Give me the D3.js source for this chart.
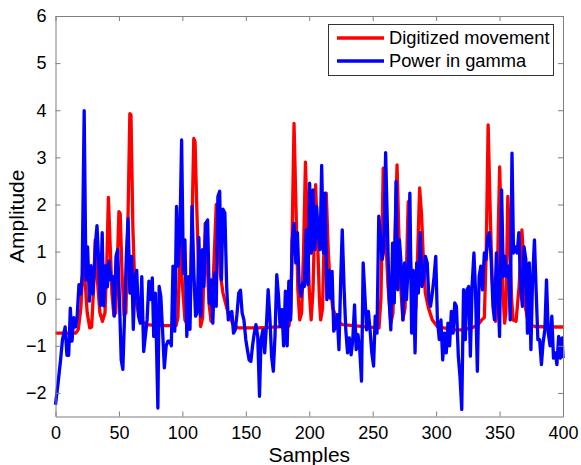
<!DOCTYPE html>
<html>
<head>
<meta charset="utf-8">
<script src="https://cdn.jsdelivr.net/npm/d3@7"></script>
<style>
  body { margin: 0; background: #fff; }
  svg { display: block; font-family: "Liberation Sans", Arial, sans-serif; }
</style>
</head>
<body>
<svg id="chart" width="581" height="465"></svg>
<script>
// ---- data ----
const xTicks = [0, 50, 100, 150, 200, 250, 300, 350, 400];
const yTicks = [-2, -1, 0, 1, 2, 3, 4, 5, 6];
const seriesNames = ["Digitized movement", "Power in gamma"];
const seriesColors = ["#ff0000", "#0000ff"];

// Digitized movement: [sample, amplitude]
const movement = [
[0,-0.73],[10,-0.73],[16,-0.73],[18,-0.65],[20,-0.2],[22,0.9],[23.5,0.3],[25,-0.3],[27,-0.62],[28.5,-0.6],
[30,0.2],[31.3,1.25],[33,0.4],[35,-0.3],[37,-0.48],[39,-0.3],[40.5,0.8],[41.7,2.15],[43,1.2],[44.5,0.1],
[46,-0.35],[47.5,-0.3],[49,1.0],[50,1.85],[51,1.8],[52.5,0.5],[54,-0.35],[55.5,-0.3],[57,1.5],[58.6,3.93],
[59.5,3.9],[61,1.5],[62.5,0.26],[64,-0.1],[66,-0.4],[69,-0.5],[72,-0.55],[80,-0.57],[95,-0.57],[96.5,-0.4],
[98.4,1.4],[100,0.3],[102,-0.45],[104,-0.55],[106,-0.4],[107.5,1.5],[109,3.4],[110,3.33],[111.5,1.8],[113,0.4],
[114.4,-0.59],[116,-0.4],[118,1.6],[119.5,0.8],[121,-0.1],[122.6,-0.48],[124.5,0.5],[126.7,2.0],[128,1.5],[130,0.5],
[132,0.12],[136,-0.3],[140,-0.55],[144,-0.62],[160,-0.62],[175,-0.6],[184,-0.58],[185.5,-0.3],[188,3.72],[189.5,2.0],
[191,0.2],[192.5,-0.45],[194,-0.3],[195.5,1.0],[197,2.9],[198.5,1.5],[200,0.2],[201.5,-0.45],[203,0.2],[205,2.42],
[206.5,1.3],[208,0],[209,-0.45],[210.5,-0.2],[211.5,1.0],[213.4,2.24],[215,1.0],[216.5,0.3],[218.5,-0.2],[222,-0.45],
[226,-0.55],[235,-0.57],[245,-0.6],[255,-0.62],[256.5,0],[258.3,2.77],[260,1.5],[262,0.3],[264.3,-0.52],[266,-0.3],
[267.5,1.2],[269.2,2.84],[270.5,1.5],[272,0.3],[273.8,-0.45],[275.5,-0.2],[276.8,0.8],[278,2.06],[279.5,1.0],[281,0.1],
[282.3,-0.34],[284,-0.2],[285.5,1.0],[287,2.35],[288.5,1.8],[290,0.8],[291.5,0.12],[294,-0.2],[297,-0.45],[301,-0.59],
[306,-0.62],[315,-0.66],[320,-0.66],[328,-0.62],[333,-0.55],[336,-0.45],[338,-0.4],[339.5,1.0],[341,3.69],[342.5,2.0],
[344,0.5],[345.5,-0.2],[346.8,-0.48],[348,0],[349,1.5],[350.1,2.8],[351.3,1.5],[352.5,0.2],[354,-0.52],[355,-0.3],
[356.5,2.17],[358,1.2],[359.5,0],[360.6,-0.45],[363,-0.48],[365.5,0.3],[367.6,1.46],[369,0.8],[370.5,-0.2],[373,-0.55],
[378,-0.59],[390,-0.6],[400,-0.6]
];

// Power in gamma: [sample, amplitude]
const gamma = [
[0,-2.25],[2,-1.8],[4,-1.3],[5.5,-0.87],[7.6,-0.6],[9,-1.2],[10.4,-1.2],[11.7,-0.2],[13,-0.9],[14.4,-0.4],
[15.8,-0.6],[17,-0.4],[18.5,0.3],[20,0.1],[21,0.5],[22.6,3.99],[24,0.4],[25.3,1.1],[26.7,-0.05],[28,0.7],
[29.4,0.1],[30.8,0.7],[31.6,1.2],[32.7,1.55],[34,0.8],[35.4,-0.15],[36.8,1.4],[38,-0.15],[39.5,0.7],[40.9,0.25],
[42.2,0.8],[43.6,0.4],[45,0.47],[46.3,-0.37],[47.7,0.9],[49,1.04],[50.4,-0.02],[51.8,-1.3],[53.1,-1.5],[54.5,-0.3],
[55.9,0.97],[57.2,1.7],[58.6,0.12],[60,0.9],[61.3,-0.65],[62.7,0.47],[64,0.6],[65.4,-0.37],[66.8,-0.52],[68,0.47],
[69.5,-1.12],[70.8,-0.8],[72.2,-0.45],[73.6,0.37],[75,-0.02],[76.3,0.44],[77.4,-0.8],[78.7,0.12],[80.7,-2.32],[81.7,0.26],
[83,0.05],[84.5,-0.73],[85.8,-1.47],[87.2,-1.0],[88.6,-0.9],[90.2,-0.9],[91.3,-1.0],[92.6,0.69],[94,-0.69],[95.4,1.96],
[96.7,0.69],[98,1.3],[99.4,3.37],[100.8,0.54],[102,1.25],[103.5,-0.8],[104.9,0.47],[106,-0.65],[107.6,1.96],[109,0.6],
[110.4,-0.37],[111.7,-0.3],[113,1.3],[114.5,-0.37],[115.8,1.04],[117,0.26],[118.5,1.6],[119.9,1.67],[121.3,-0.1],[122.6,0.4],
[124,-0.52],[125.3,0.54],[126.7,-0.16],[128,2.17],[129.4,2.28],[130.8,0.4],[132,1.9],[133.5,1.82],[134.9,0.26],[136.2,-0.45],
[137.6,-0.3],[139,-0.27],[140.3,-0.73],[141.7,-0.66],[143,-0.34],[144.4,0.12],[145.8,0.18],[147.1,-0.3],[148.5,-0.45],[150,-0.87],
[151.2,-1.08],[152.6,-1.3],[154,-1.33],[155.3,-1.0],[156.7,-0.73],[158,-0.55],[159.4,-0.8],[160.8,-2.07],[162,-0.87],[163.5,-0.66],
[164.9,-1.15],[166.2,-0.59],[167.6,0.19],[169,-0.41],[170.3,-1.22],[171.7,-1.54],[173,-0.8],[174.4,0.51],[175.8,0.05],[177,-0.59],
[178.5,-0.23],[179.8,-1.0],[181.2,0.16],[182.6,-1.0],[183.9,0.37],[185.3,-0.45],[186.6,1.25],[188,1.6],[189.4,0.76],[190.7,1.4],
[192,0.33],[193.5,0.05],[194.9,0.33],[196.2,0.26],[197.6,1.46],[199,0.3],[200.3,2.45],[201.6,0.97],[203,2.31],[204.4,1.04],
[205.8,1.96],[207,1.4],[208.5,1.04],[209.8,2.83],[211.2,0.97],[212.5,2.24],[213.9,-0.02],[215.3,0.6],[216.6,0.01],[218,0.58],
[219.3,-0.69],[220.7,-0.59],[222,-0.34],[223.4,-1.08],[224.8,0.4],[226,1.46],[227.5,0.19],[228.8,-0.66],[230.2,-1.15],[231.6,-0.83],
[233,-1.19],[234.3,-0.87],[235.7,-0.13],[237,-1.08],[238.4,-0.76],[239.8,-1.08],[241.2,-1.75],[242.5,0.76],[243.9,0.05],[245.2,-0.66],
[246.6,-0.27],[248,-0.69],[249.3,-1.15],[250.7,-1.43],[252,-0.37],[253.4,-0.73],[254.8,1.75],[256,1.4],[257.5,0.83],[258.8,1.04],
[260.2,3.1],[261.6,1.53],[263,-0.02],[264.3,-0.66],[265.7,1.18],[267,-0.09],[268.4,2.49],[269.8,0.19],[271.1,1.25],[272.5,0.69],
[273.8,-0.45],[275.2,0.76],[276.6,-0.02],[278,0.69],[279.3,2.24],[280.7,-0.73],[282,0.6],[283.4,-1.15],[284.7,0.76],[286,0.12],
[287.5,1.4],[288.8,0.26],[290.2,0.4],[291.5,0.9],[293,0.76],[294.3,-0.02],[295.6,-0.16],[297,0.12],[298.4,0.47],[299.7,0.9],
[301,-0.45],[302.5,-0.87],[303.8,-0.45],[305.2,-1.3],[306.5,-0.73],[308,-1.15],[309.3,-0.52],[310.6,-1.0],[312,-0.27],[313.4,-0.73],
[314.7,-0.09],[316,-0.16],[317.5,-1.22],[318.8,-1.65],[320.2,-2.35],[321.6,0.19],[323,-0.87],[324.3,0.19],[325.7,0.26],[327,-1.22],
[328.4,0.3],[329.8,0.97],[331,0.19],[332.5,-1.54],[333.9,0.47],[335.2,0.69],[336.6,0.19],[338,0.97],[339.3,0.83],[340.7,1.32],
[342,1.4],[343.4,0.83],[344.8,-0.16],[346,-0.45],[347.5,0.97],[348.8,0.12],[350,-0.8],[351.6,2.31],[353,0.47],[354.3,0.9],
[355.7,0.47],[357,0.69],[358.4,-0.45],[359.8,3.09],[361,0.97],[362.5,1.1],[363.9,0.97],[365.2,1.4],[366.6,0.26],[368,-0.16],
[369.3,1.1],[370.7,0.83],[372,-0.73],[373.4,0.76],[374.7,-1.08],[376,0.4],[377.5,1.25],[378.8,0.19],[380.2,-0.87],[381.6,-0.87],
[383,-1.4],[384.3,-0.94],[385.7,-0.66],[387,0.4],[388.4,-0.73],[389.8,-1.0],[391.2,-0.37],[392.5,-1.26],[394,-1.15],[395.2,-1.4],
[396.6,-0.8],[398,-1.26],[399.3,-0.83],[400,-1.26]
];

const series = [movement, gamma];

// ---- layout ----
const svg = d3.select("#chart");
const mLeft = 55.5, mRight = 563, mTop = 16, mBottom = 416.5;
const x = d3.scaleLinear().domain([0, 400]).range([mLeft, mRight]);
const y = d3.scaleLinear().domain([-2.5, 6]).range([mBottom, mTop]);
const axisColor = "#7f7f7f";

// lines
const line = d3.line().x(d => x(d[0])).y(d => y(d[1]));
const plot = svg.append("g");
series.forEach((s, i) => {
  plot.append("path")
    .datum(s)
    .attr("fill", "none")
    .attr("stroke", seriesColors[i])
    .attr("stroke-width", 3.3)
    .attr("stroke-linejoin", "round")
    .attr("d", line);
});

// axes (MATLAB-style inward ticks on all sides)
function styleAxis(g, showText) {
  g.select(".domain").attr("stroke", axisColor).attr("stroke-width", 1);
  g.selectAll(".tick line").attr("stroke", axisColor);
  g.selectAll(".tick text").attr("fill", "#000").style("font-size", "18px")
    .style("font-family", '"Liberation Sans", Arial, sans-serif');
  if (!showText) g.selectAll(".tick text").remove();
}
svg.append("g").attr("transform", `translate(0,${mBottom})`)
  .call(d3.axisBottom(x).tickValues(xTicks).tickSizeInner(-5).tickSizeOuter(0).tickPadding(10))
  .call(g => styleAxis(g, true));
svg.append("g").attr("transform", `translate(0,${mTop})`)
  .call(d3.axisTop(x).tickValues(xTicks).tickSizeInner(-5).tickSizeOuter(0))
  .call(g => styleAxis(g, false));
svg.append("g").attr("transform", `translate(${mLeft},0)`)
  .call(d3.axisLeft(y).tickValues(yTicks).tickSizeInner(-5).tickSizeOuter(0).tickPadding(9))
  .call(g => styleAxis(g, true));
svg.append("g").attr("transform", `translate(${mRight},0)`)
  .call(d3.axisRight(y).tickValues(yTicks).tickSizeInner(-5).tickSizeOuter(0))
  .call(g => styleAxis(g, false));

// axis titles
svg.append("text").attr("x", (mLeft + mRight) / 2).attr("y", 462)
  .attr("text-anchor", "middle").style("font-size", "21px").text("Samples");
svg.append("text").attr("transform", `translate(24,${(mTop + mBottom) / 2}) rotate(-90)`)
  .attr("text-anchor", "middle").style("font-size", "21px").text("Amplitude");

// legend
const lg = svg.append("g");
lg.append("rect").attr("x", 328.5).attr("y", 24.5).attr("width", 225).attr("height", 51)
  .attr("fill", "#fff").attr("stroke", "#333").attr("stroke-width", 1);
seriesNames.forEach((name, i) => {
  const yy = 38 + i * 23;
  lg.append("line").attr("x1", 337).attr("x2", 384).attr("y1", yy).attr("y2", yy)
    .attr("stroke", seriesColors[i]).attr("stroke-width", 3.3);
  lg.append("text").attr("x", 389).attr("y", yy + 6).style("font-size", "18.3px").text(name);
});
</script>
</body>
</html>
